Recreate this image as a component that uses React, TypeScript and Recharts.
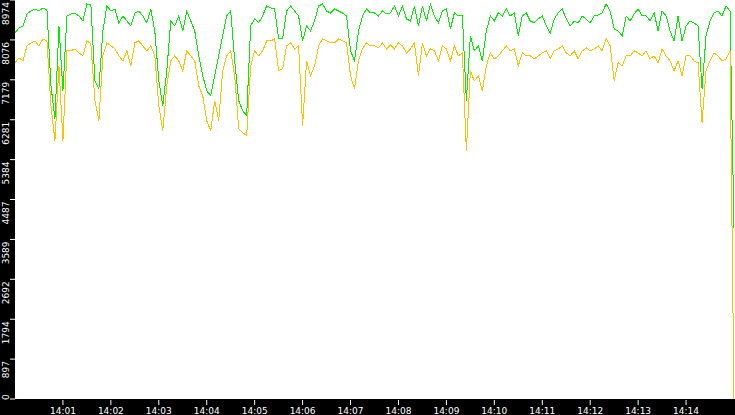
import React from 'react';
import { LineChart, Line, XAxis, YAxis, CartesianGrid } from 'recharts';

// one sample every 5 seconds, 14:00:00 .. 14:15:00
const STEP_SECONDS = 5;

const greenSeries = [
  8234, 8346, 8391, 8660, 8727, 8772, 8727, 8795, 8750, 7045, 6304, 8391, 6932, 8615, 8660,
  8682, 8615, 8503, 8884, 8862, 7157, 6977, 8278, 8839, 8727, 8772, 8458, 8615, 8503, 8391,
  8682, 8727, 8615, 8458, 8772, 8278, 7157, 6596, 7381, 8503, 8391, 8615, 8278, 8727, 8503,
  8278, 7718, 7269, 6932, 6820, 7269, 7718, 8166, 8615, 8727, 7605, 6708, 6484, 6372, 8391,
  8548, 8458, 8615, 8839, 8795, 8772, 8099, 8099, 8727, 8839, 8727, 8615, 8054, 8391, 8278,
  8503, 8839, 8884, 8727, 8682, 8772, 8727, 8682, 8615, 7830, 7605, 8278, 8615, 8772, 8682,
  8682, 8615, 8727, 8660, 8682, 8839, 8615, 8839, 8548, 8503, 8839, 8391, 8839, 8503, 8884,
  8615, 8458, 8727, 8772, 8323, 8682, 8615, 8615, 6708, 8166, 7830, 7942, 7605, 8278, 8615,
  8503, 8682, 8615, 8772, 8615, 8682, 8166, 8615, 8682, 8503, 8458, 8548, 8615, 8391, 8234,
  8548, 8682, 8772, 8548, 8391, 8503, 8458, 8615, 8548, 8458, 8615, 8637, 8682, 8884, 8727,
  8323, 8278, 8166, 8615, 8503, 8660, 8772, 8615, 8615, 8503, 8682, 8278, 8727, 8615, 8278,
  8054, 8615, 8054, 8391, 8503, 8458, 8391, 6977, 8166, 8503, 8682, 8727, 8615, 8839, 8727,
  3836,
];

const orangeSeries = [
  7561, 7673, 7605, 7942, 8009, 8054, 7942, 8099, 8054, 6596, 5811, 7493, 5811, 7830, 7830,
  7875, 7785, 7718, 8054, 7987, 6708, 6259, 7718, 8009, 7942, 7875, 7718, 7605, 7830, 7493,
  8009, 8054, 7942, 7830, 7942, 7718, 6596, 6035, 7045, 7605, 7718, 7605, 7381, 7830, 7718,
  7605, 7045, 6820, 6259, 6035, 6708, 6259, 7381, 7718, 7830, 7269, 6080, 5990, 5923, 7493,
  7830, 7718, 7830, 8054, 8054, 8099, 7381, 7426, 7942, 8009, 7875, 7942, 6147, 7605, 7269,
  7493, 7942, 8099, 8054, 8009, 8009, 8099, 8054, 8009, 7269, 6977, 7605, 7875, 8009, 7942,
  7942, 7897, 8009, 7875, 7964, 7875, 8009, 7942, 7785, 7875, 8009, 7269, 8009, 7718, 7875,
  7830, 7605, 7942, 7875, 7605, 7942, 7718, 7785, 5586, 7381, 7157, 7269, 6932, 7493, 7785,
  7650, 7718, 7830, 7942, 7830, 7875, 7493, 7785, 7718, 7718, 7650, 7718, 7785, 7830, 7650,
  7830, 7875, 7942, 7785, 7718, 7830, 7650, 7830, 7897, 7830, 7875, 7942, 7830, 8099, 7942,
  7157, 7561, 7493, 7718, 7718, 7830, 7785, 7718, 7830, 7650, 7718, 7561, 7875, 7718, 7605,
  7381, 7605, 7269, 7718, 7718, 7605, 7561, 6214, 7381, 7605, 7785, 7718, 7605, 7650, 7830,
  0,
];

const yTicks = [0, 897, 1794, 2692, 3589, 4487, 5384, 6281, 7179, 8076, 8974];
const xTicks = [60, 120, 180, 240, 300, 360, 420, 480, 540, 600, 660, 720, 780, 840];
const xTickLabels = [
  '14:01', '14:02', '14:03', '14:04', '14:05', '14:06', '14:07',
  '14:08', '14:09', '14:10', '14:11', '14:12', '14:13', '14:14',
];

const data = greenSeries.map((g, i) => ({ t: i * STEP_SECONDS, green: g, orange: orangeSeries[i] }));

const YTick = (props: any) => {
  const { y, payload } = props;
  const isZero = payload.value === 0;
  return (
    <g>
      <line x1={10} x2={15} y1={y} y2={y} stroke="#fff" />
      <text
        transform={`translate(9, ${isZero ? y + 1 : y + 2}) rotate(-90)`}
        textAnchor={isZero ? 'start' : 'end'}
        fill="#fff"
        fontSize={9}
        fontFamily="'DejaVu Sans', sans-serif"
      >
        {payload.value}
      </text>
    </g>
  );
};

const XTick = (props: any) => {
  const { x, payload } = props;
  const idx = xTicks.indexOf(payload.value);
  return (
    <g>
      <line x1={x} x2={x} y1={400} y2={405} stroke="#fff" />
      <text x={x} y={414} textAnchor="middle" fill="#fff" fontSize={9} fontFamily="'DejaVu Sans', sans-serif">
        {xTickLabels[idx]}
      </text>
    </g>
  );
};

const App: React.FC = () => {
  return (
    <div style={{ width: 735, height: 415, background: '#000' }}>
      <style>{`body { margin: 0; }`}</style>
      <LineChart width={735} height={415} data={data} margin={{ top: 0, right: 0, bottom: 0, left: 0 }}>
        <CartesianGrid horizontal={false} vertical={false} fill="#fff" />
        <XAxis
          dataKey="t"
          type="number"
          domain={[0, 901.25]}
          ticks={xTicks}
          height={16}
          axisLine={false}
          tickLine={false}
          tick={<XTick />}
          interval={0}
        />
        <YAxis
          type="number"
          domain={[0, 8974]}
          ticks={yTicks}
          width={15}
          axisLine={false}
          tickLine={false}
          tick={<YTick />}
          interval={0}
        />
        <Line dataKey="green" stroke="#00ee00" strokeWidth={1} dot={false} shapeRendering="crispEdges" isAnimationActive={false} />
        <Line dataKey="orange" stroke="#ffc000" strokeWidth={1} dot={false} shapeRendering="crispEdges" isAnimationActive={false} />
      </LineChart>
    </div>
  );
};

export default App;
